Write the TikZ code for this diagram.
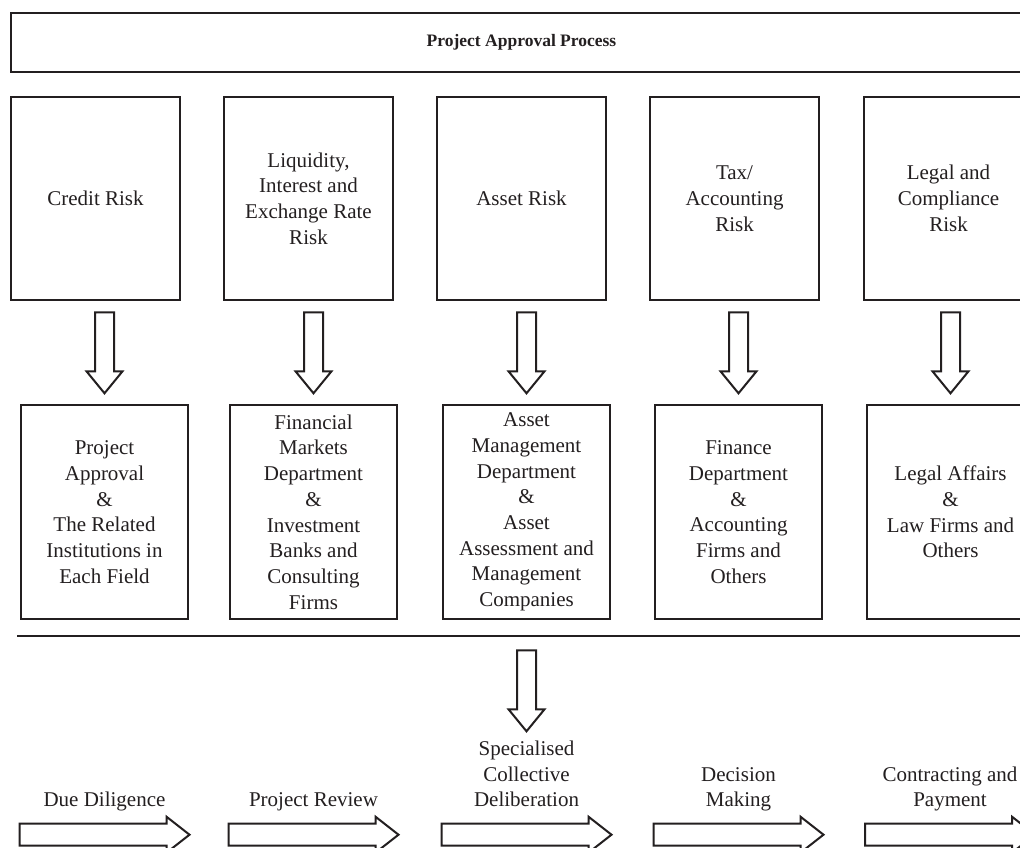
\documentclass[tikz,border=0pt]{standalone}
\usepackage{fontspec}
\setmainfont{Liberation Serif}
\usetikzlibrary{calc}
\definecolor{ink}{HTML}{231F20}
\begin{document}
\begin{tikzpicture}[x=1pt,y=-1pt,
  txt/.style={text=ink, align=center, inner sep=0pt, font=\fontsize{21}{25.7}\selectfont},
  box/.style={txt, draw=ink, line width=2.6pt},
  titlebox/.style={box, minimum width=1021pt, minimum height=59pt, font=\fontsize{17.5}{21}\selectfont\bfseries},
  topbox/.style={box, minimum width=169pt, minimum height=203pt},
  botbox/.style={box, minimum width=167pt, minimum height=214pt},
  lbl/.style={txt, anchor=south},
  arrline/.style={draw=ink, line width=2pt, line join=miter, fill=white},
  rule/.style={draw=ink, line width=2pt},
  downarr/.pic={\path[arrline] (-9.5,0) -- (-9.5,59) -- (-18,59) -- (0,81) -- (18,59) -- (9.5,59) -- (9.5,0) -- cycle;},
  rightarr/.pic={\path[arrline] (0,-11) -- (147,-11) -- (147,-18) -- (170,0) -- (147,18) -- (147,11) -- (0,11) -- cycle;}
]
\useasboundingbox (0,0) rectangle (1020,848);
\fill[white] (0,0) rectangle (1020,848);

\node[titlebox] (top) at (521.5,42.5) {Project Approval Process};

\node[topbox] (t1) at (95.5,198.5) {Credit Risk};
\node[topbox] (t2) at (308.5,198.5) {Liquidity,\\Interest and\\Exchange Rate\\Risk};
\node[topbox] (t3) at (521.5,198.5) {Asset Risk};
\node[topbox] (t4) at (734.5,198.5) {Tax/\\Accounting\\Risk};
\node[topbox] (t5) at (948.5,198.5) {Legal and\\Compliance\\Risk};

\node[botbox] (b1) at (104.5,512) {Project\\Approval\\\&\\The Related\\Institutions in\\Each Field};
\node[botbox] (b2) at (313.5,512) {Financial\\Markets\\Department\\\&\\Investment\\Banks and\\Consulting\\Firms};
\node[botbox] (b3) at (526.5,512) {Asset\\Management\\Department\\\&\\Asset\\Assessment and\\Management\\Companies};
\node[botbox] (b4) at (738.5,512) {Finance\\Department\\\&\\Accounting\\Firms and\\Others};
\node[botbox] (b5) at (950.5,512) {Legal Affairs\\\&\\Law Firms and\\Others};

\foreach \i in {1,...,5}{
  \pic at ($(b\i.north |- t\i.south)+(0,11)$) {downarr};
}

\coordinate (rl) at (17,636);
\coordinate (rr) at (1030,636);
\path[rule] (rl) -- (rr);

\pic at ($(b3.south)+(0,30)$) {downarr};

\node[lbl] (l1) at (104.5,814.7) {Due Diligence\strut};
\node[lbl] (l2) at (313.5,814.7) {Project Review\strut};
\node[lbl] (l3) at (526.5,814.7) {Specialised\\Collective\\Deliberation\strut};
\node[lbl] (l4) at (738.5,814.7) {Decision\\Making\strut};
\node[lbl] (l5) at (950,814.7) {Contracting and\\Payment\strut};

\foreach \i in {1,...,5}{
  \pic at ($(l\i.south)+(-85,20)$) {rightarr};
}
\end{tikzpicture}
\end{document}
